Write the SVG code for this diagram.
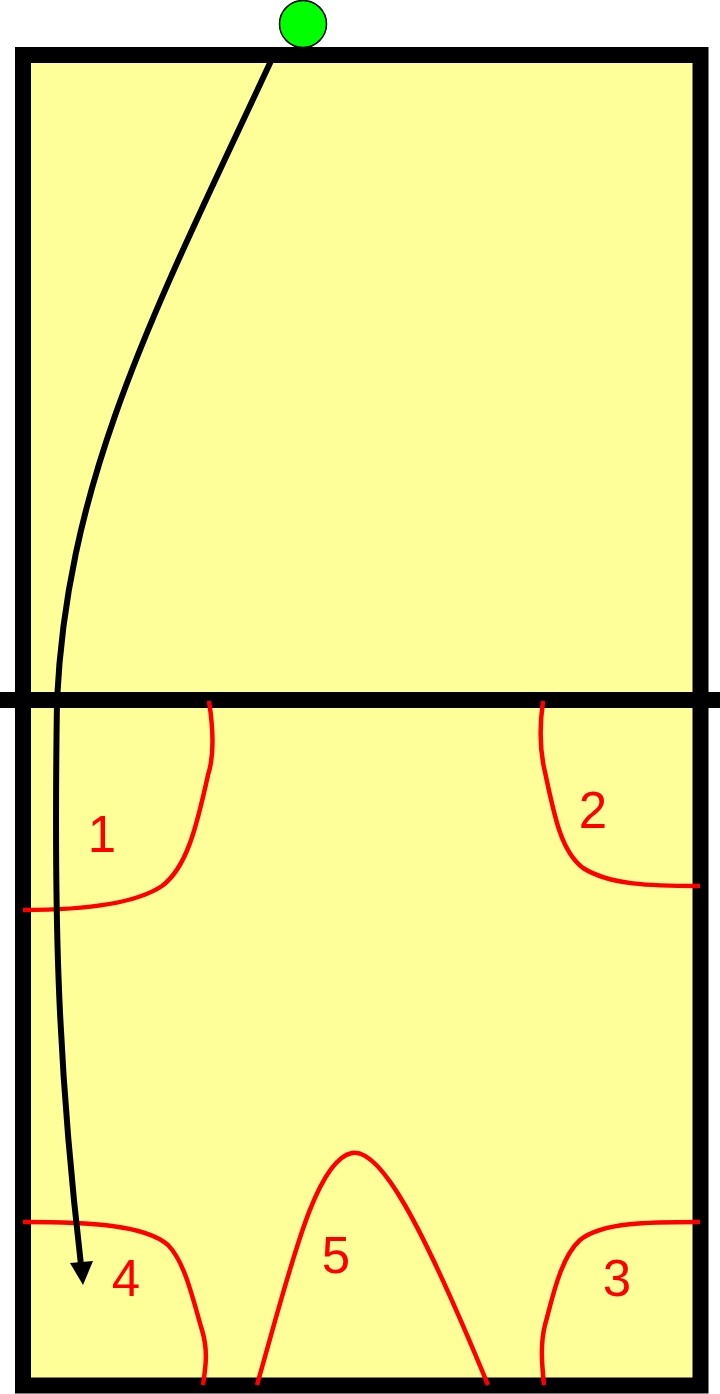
<svg xmlns="http://www.w3.org/2000/svg" width="720" height="1394" viewBox="0 0 720 1394">
<style>
.zone{fill:none;stroke:#ff0000;stroke-width:4.5;stroke-linecap:butt}
.lbl{font-family:"Liberation Sans",Arial,sans-serif;font-size:51px;fill:#ff0000;text-anchor:middle}
</style>
<rect width="720" height="1394" fill="#ffffff"/>
<g id="court">
<rect x="23" y="55" width="677.5" height="1330.5" fill="#ffff99" stroke="#000000" stroke-width="16"/>
<line x1="0" y1="700" x2="720" y2="700" stroke="#000000" stroke-width="16"/>
</g>
<g id="zones">
<g id="zone1"><path class="zone" d="M209 701 C215 740 213 760 208 775 C196 830 186 868 162 886 C132 906 72 910 23 910"/><text class="lbl" x="102" y="852">1</text></g>
<g id="zone2"><path class="zone" d="M543 701 C539 730 540 752 545 772 C555 820 562 852 583 868 C610 885 650 886 700 886"/><text class="lbl" x="593" y="828">2</text></g>
<g id="zone3"><path class="zone" d="M700 1222 C650 1222 602 1222 580 1240 C560 1258 552 1300 545 1325 C540 1345 542 1365 544 1385"/><text class="lbl" x="617" y="1296">3</text></g>
<g id="zone4"><path class="zone" d="M23 1222 C90 1222 145 1225 168 1245 C185 1262 193 1300 202 1330 C208 1350 206 1365 203 1385"/><text class="lbl" x="126" y="1296">4</text></g>
<g id="zone5"><path class="zone" d="M257 1385 C290 1270 315 1160 352 1153 C380 1148 420 1220 488 1385"/><text class="lbl" x="336" y="1273">5</text></g>
</g>
<g id="connectors">
<path d="M277 48 C160 300 68 470 57 700 C54 900 56 1050 81 1265" fill="none" stroke="#000000" stroke-width="6"/>
<polygon points="83,1285 70,1263 93,1261" fill="#000000"/>
</g>
<g id="ball">
<circle cx="303" cy="24" r="23.5" fill="#00ff00" stroke="#000000" stroke-width="1.5"/>
</g>
</svg>
